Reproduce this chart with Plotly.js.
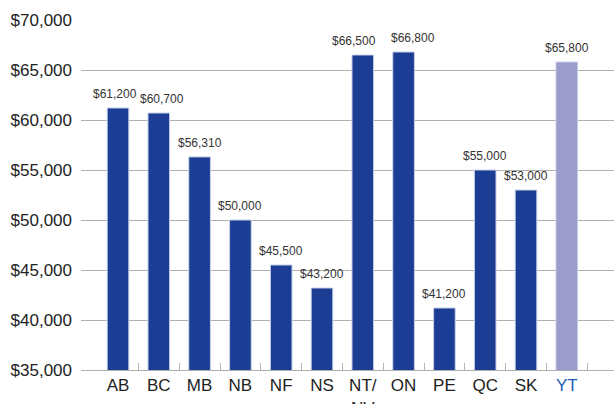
<!DOCTYPE html>
<html>
<head>
<meta charset="utf-8">
<script src="https://cdn.plot.ly/plotly-3.0.1.min.js"></script>
<style>html,body{margin:0;padding:0;background:#fff;}#chart{width:614px;height:404px;}</style>
</head>
<body>
<div id="chart"></div>
<script>
const categories = ["AB", "BC", "MB", "NB", "NF", "NS", "NT/NV", "ON", "PE", "QC", "SK", "YT"];
const tickLabels = ["AB", "BC", "MB", "NB", "NF", "NS", "NT/<br>NV", "ON", "PE", "QC", "SK", "YT"];
const salaries = [61200, 60700, 56310, 50000, 45500, 43200, 66500, 66800, 41200, 55000, 53000, 65800];
const highlighted = "YT";

// styling: small horizontal nudges so neighbouring value labels do not collide
const labelNudge = { "AB": -3, "BC": 3, "NT/NV": -9, "ON": 9 };

const baseColor = "#1c3d94";
const highlightColor = "#9b9ccb";
const barColors = categories.map(c => c === highlighted ? highlightColor : baseColor);
const tickText = categories.map((c, i) => c === highlighted
  ? '<span style="color:#1f5cb4">' + tickLabels[i] + '</span>'
  : tickLabels[i]);

const font = "Liberation Sans, Arial, Helvetica, sans-serif";
const xRange = [-0.907, 12.157];

const trace = {
  type: "bar",
  x: categories,
  y: salaries,
  width: 0.53,
  marker: { color: barColors, line: { color: "#c8d0e8", width: 1 } },
  hoverinfo: "none"
};

const annotations = categories.map((c, i) => ({
  x: c,
  y: salaries[i],
  xref: "x",
  yref: "y",
  text: "$" + salaries[i].toLocaleString("en-US"),
  showarrow: false,
  xanchor: "center",
  yanchor: "bottom",
  yshift: 5,
  xshift: labelNudge[c] || 0,
  font: { family: font, size: 12, color: "#333333" }
}));

const boundaries = categories.map((c, i) => i + 0.5);

const layout = {
  width: 614,
  height: 404,
  margin: { l: 81, r: 0, t: 20, b: 34 },
  paper_bgcolor: "#ffffff",
  plot_bgcolor: "#ffffff",
  showlegend: false,
  font: { family: font, size: 17, color: "#222222" },
  annotations: annotations,
  xaxis: {
    type: "category",
    range: xRange,
    tickvals: categories,
    ticktext: tickText,
    ticks: "",
    showline: true,
    linecolor: "#b0b0b0",
    linewidth: 1,
    showgrid: false,
    zeroline: false,
    tickfont: { family: font, size: 17, color: "#222222" },
    fixedrange: true
  },
  xaxis2: {
    type: "linear",
    overlaying: "x",
    anchor: "y",
    side: "bottom",
    range: xRange,
    tickmode: "array",
    tickvals: boundaries,
    showticklabels: false,
    ticks: "inside",
    ticklen: 7,
    tickcolor: "#b5b5b5",
    tickwidth: 1,
    showgrid: false,
    zeroline: false,
    showline: false,
    fixedrange: true
  },
  yaxis: {
    range: [35000, 70000],
    dtick: 5000,
    tick0: 35000,
    tickprefix: "$",
    tickformat: ",d",
    showgrid: true,
    gridcolor: "#b0b0b0",
    gridwidth: 1,
    zeroline: false,
    showline: false,
    ticks: "",
    ticklabelstandoff: 8,
    tickfont: { family: font, size: 17, color: "#222222" },
    fixedrange: true
  }
};

const tickCarrier = { type: "scatter", x: [], y: [], xaxis: "x2", yaxis: "y", hoverinfo: "none", showlegend: false };

Plotly.newPlot("chart", [trace, tickCarrier], layout, { displayModeBar: false, staticPlot: true });
</script>
</body>
</html>
